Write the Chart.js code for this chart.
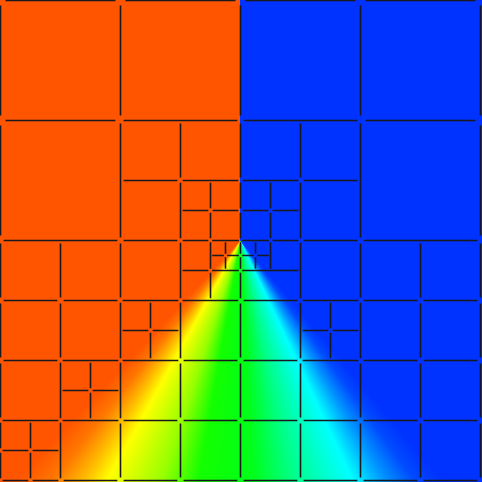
<!DOCTYPE html>
<html>
<head>
<meta charset="utf-8">
<script src="https://cdn.jsdelivr.net/npm/chart.js@4/dist/chart.umd.min.js"></script>
<style>
html,body{margin:0;padding:0;background:#fff;}
#wrap{width:482px;height:482px;position:relative;}
</style>
</head>
<body>
<div id="wrap"><canvas id="c" width="482" height="482"></canvas></div>
<script>
// Mesh cells (grid units, 16 x 16 domain, y measured downward)
const cellX = [0,4,8,12, 0, 4,6,4,6,7,6,7, 8,10,10,8,9,8,9, 12,
  0,2,0,2, 4,6,7,7.5,7,7.5,6,7,4,5,4,5,6,
  8,8.5,8,8.5,9,8,10,8,10,11,10,11, 12,14,12,14,
  0,2,3,2,3,0,1,0,1,2, 4,6,4,6, 8,10,8,10, 12,14,12,14];
const cellY = [0,0,0,0, 4, 4,4,6,6,6,7,7, 4,4,6,6,6,7,7, 4,
  8,8,10,10, 8,8,8,8,8.5,8.5,9,9,10,10,11,11,10,
  8,8,8.5,8.5,8,9,8,10,10,10,11,11, 8,8,10,10,
  12,12,12,13,13,14,14,15,15,14, 12,12,14,14, 12,12,14,14, 12,12,14,14];
const cellW = [4,4,4,4, 4, 2,2,2,1,1,1,1, 2,2,2,1,1,1,1, 4,
  2,2,2,2, 2,1,0.5,0.5,0.5,0.5,1,1,1,1,1,1,2,
  0.5,0.5,0.5,0.5,1,2,2,2,1,1,1,1, 2,2,2,2,
  2,1,1,1,1,1,1,1,1,2, 2,2,2,2, 2,2,2,2, 2,2,2,2];
const cellH = [4,4,4,4, 4, 2,2,2,1,1,1,1, 2,2,2,1,1,1,1, 4,
  2,2,2,2, 2,1,0.5,0.5,0.5,0.5,1,1,1,1,1,1,2,
  0.5,0.5,0.5,0.5,1,1,2,2,1,1,1,1, 2,2,2,2,
  2,1,1,1,1,1,1,1,1,2, 2,2,2,2, 2,2,2,2, 2,2,2,2];

// Colour field: colour by angle (degrees) from the downward direction at the apex
const apex = {x: 8, y: 8};
const fieldAngles = [40, 36, 31, 25, 12, 3, -10, -18, -29, -33, -38, -43];
const fieldColors = ['rgb(0,51,255)','rgb(0,75,255)','rgb(0,150,255)','rgb(0,255,255)',
  'rgb(0,255,130)','rgb(0,255,25)','rgb(20,255,0)','rgb(150,255,0)','rgb(255,255,0)',
  'rgb(255,190,0)','rgb(255,120,0)','rgb(255,85,0)'];

// Build edge segments from cells
const edgePts = [];
for (let i = 0; i < cellX.length; i++) {
  const x0 = cellX[i], y0 = cellY[i], x1 = x0 + cellW[i], y1 = y0 + cellH[i];
  const gw = 0.04 + 0.032 * cellW[i];
  const gh = 0.04 + 0.032 * cellH[i];
  const segs = [
    [x0 + gw, y0, x1 - gw, y0],
    [x0 + gw, y1, x1 - gw, y1],
    [x0, y0 + gh, x0, y1 - gh],
    [x1, y0 + gh, x1, y1 - gh]
  ];
  for (const s of segs) {
    edgePts.push({x: s[0], y: s[1]}, {x: s[2], y: s[3]}, {x: s[2], y: null});
  }
}

const fieldPlugin = {
  id: 'field',
  beforeDatasetsDraw(chart) {
    const {ctx, chartArea, scales} = chart;
    const cx = scales.x.getPixelForValue(apex.x);
    const cy = scales.y.getPixelForValue(apex.y);
    const g = ctx.createConicGradient(-Math.PI / 2, cx, cy);
    g.addColorStop(0, fieldColors[0]);
    for (let i = 0; i < fieldAngles.length; i++) {
      g.addColorStop((180 - fieldAngles[i]) / 360, fieldColors[i]);
    }
    g.addColorStop(1, fieldColors[fieldColors.length - 1]);
    ctx.save();
    ctx.fillStyle = g;
    ctx.fillRect(chartArea.left, chartArea.top, chartArea.right - chartArea.left, chartArea.bottom - chartArea.top);
    ctx.restore();
  }
};

const unitPx = 30;
new Chart(document.getElementById('c'), {
  type: 'scatter',
  data: {
    datasets: [{
      data: edgePts,
      showLine: true,
      spanGaps: false,
      borderColor: 'rgb(24,24,30)',
      borderWidth: 1.6,
      borderCapStyle: 'butt',
      pointRadius: 0,
      pointHoverRadius: 0,
      tension: 0
    }]
  },
  options: {
    responsive: false,
    animation: false,
    devicePixelRatio: 1,
    layout: {padding: 0},
    plugins: {legend: {display: false}, tooltip: {enabled: false}},
    events: [],
    scales: {
      x: {type: 'linear', display: false, min: -0.5 / unitPx, max: -0.5 / unitPx + 482 / unitPx},
      y: {type: 'linear', display: false, reverse: true, min: -0.5 / unitPx, max: -0.5 / unitPx + 482 / unitPx}
    }
  },
  plugins: [fieldPlugin]
});
</script>
</body>
</html>
